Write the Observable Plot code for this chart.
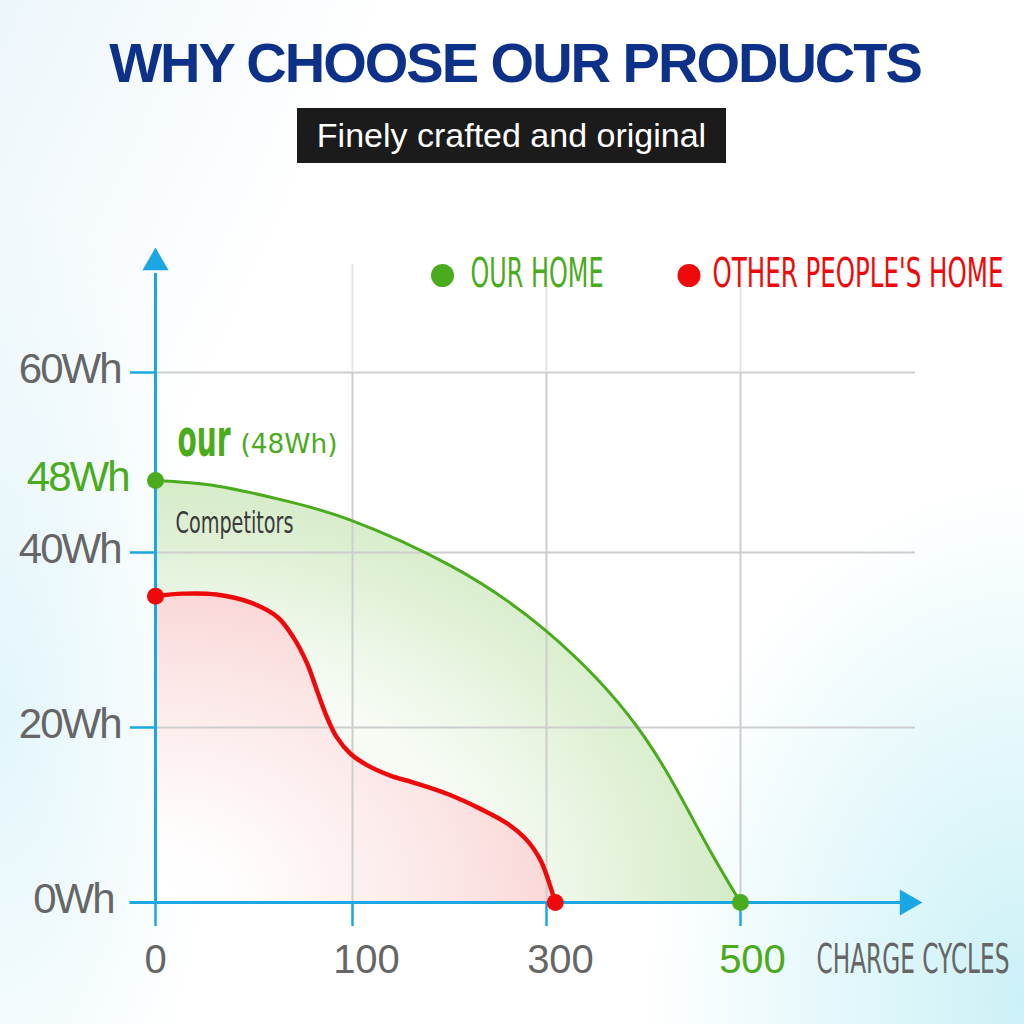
<!DOCTYPE html>
<html><head><meta charset="utf-8">
<script src="https://cdn.jsdelivr.net/npm/d3@7"></script>
<script src="https://cdn.jsdelivr.net/npm/@observablehq/plot@0.6"></script>
<style>
html,body{margin:0;padding:0;width:1024px;height:1024px;overflow:hidden;}
body{position:relative;background:
 radial-gradient(ellipse 380px 520px at 1024px 1000px, rgba(200,240,246,0.95), rgba(255,255,255,0) 100%),
 radial-gradient(ellipse 220px 520px at 0px 720px, rgba(222,244,250,0.85), rgba(255,255,255,0) 100%),
 linear-gradient(115deg, rgba(232,244,250,0.8) 0%, rgba(255,255,255,0) 26%),
 #fff;}
#title{position:absolute;left:3px;width:1024px;top:35px;text-align:center;font:bold 56px/56px "Liberation Sans",Arial,sans-serif;color:#0d3189;letter-spacing:-2px;}
#sub{position:absolute;left:297px;top:108px;width:429px;height:55px;background:#1b1b1b;color:#fff;display:flex;align-items:center;justify-content:center;font:34px "Liberation Sans",Arial,sans-serif;}
#chart{position:absolute;left:0;top:0;}
.ylab text{letter-spacing:-2px}
</style></head>
<body>
<div id="chart"></div>
<div id="title">WHY CHOOSE OUR PRODUCTS</div>
<div id="sub">Finely crafted and original</div>
<script>
// ---- data ----
const cycleTicks = [0, 100, 300, 500];
const whTicks = [0, 20, 40, 60];
const ourCapacity = 48;
const ourCycles = [0, 31, 65, 99, 201, 299, 394, 459, 500];
const ourWh     = [48, 47.4, 45.8, 43.6, 38.5, 31.1, 20, 7.85, 0];
const otherCycles = [0, 14, 31, 48, 62, 70, 77, 82, 87, 92, 99, 115, 139, 163, 198, 232, 260, 280, 294, 302, 309];
const otherWh     = [35, 35.3, 35.2, 34.3, 32.6, 30.3, 27.3, 24.2, 21.2, 18.9, 17, 15.7, 14.5, 13.7, 12.4, 10.7, 9, 7.1, 4.8, 2.5, 0];
const legendLabels = ["OUR HOME", "OTHER PEOPLE'S HOME"];
const xAxisTitle = "CHARGE CYCLES";

const ourData = ourCycles.map((c, i) => ({c, wh: ourWh[i]}));
const otherData = otherCycles.map((c, i) => ({c, wh: otherWh[i]}));

const GREEN = "#4aab1c", RED = "#ee0a0a", BLUE = "#1aa7e4", GRAY = "#666666", GRID = "#cdcdcd";
const SANS = "'Liberation Sans', Arial, sans-serif";
const COND = "'Liberation Sans Narrow', 'DejaVu Sans Condensed', sans-serif";

// annotation anchored at data point (0, 60) with pixel offsets
const squeeze = {};
function note(text, dx, dy, len, cls, opts) {
  squeeze[cls] = len;
  return Plot.text([text], {x: () => 0, y: () => 60, text: d => d, dx, dy,
    textAnchor: "start", lineAnchor: "middle", fontFamily: COND, className: cls, ...opts});
}

const plot = Plot.plot({
  width: 1024, height: 1024,
  marginLeft: 155, marginRight: 109, marginTop: 300, marginBottom: 122,
  style: {background: "transparent", overflow: "visible"},
  x: {type: "linear", domain: cycleTicks, range: [155, 352, 546, 740]},
  y: {type: "linear", domain: whTicks, range: [902, 727, 552, 372]},
  marks: [
    Plot.areaY(ourData, {x: "c", y: "wh", curve: "natural", fill: "url(#gGreen)"}),
    Plot.areaY(otherData, {x: "c", y: "wh", curve: "catmull-rom", fill: "white"}),
    Plot.areaY(otherData, {x: "c", y: "wh", curve: "catmull-rom", fill: "url(#gRed)"}),
    Plot.gridY(whTicks.filter(d => d > 0), {stroke: GRID, strokeOpacity: 1, strokeWidth: 2}),
    Plot.ruleX(cycleTicks.filter(d => d > 0), {y1: 0, y2: 60, stroke: GRID, strokeWidth: 2}),
    Plot.ruleX(cycleTicks.filter(d => d > 0), {y1: 60, y2: 72, stroke: "#e4e4e4", strokeWidth: 2}),
    Plot.line(ourData, {x: "c", y: "wh", curve: "natural", stroke: GREEN, strokeWidth: 3}),
    Plot.line(otherData, {x: "c", y: "wh", curve: "catmull-rom", stroke: RED, strokeWidth: 4.5}),
    // axes
    Plot.axisY(whTicks, {tickSize: 25, tickFormat: () => "", stroke: BLUE, strokeWidth: 2.5, label: null}),
    Plot.axisX(cycleTicks, {tickSize: 24, tickFormat: () => "", stroke: BLUE, strokeWidth: 2.5, label: null}),
    Plot.ruleX([0], {y1: 0, y2: 71, stroke: BLUE, strokeWidth: 3}),
    Plot.ruleY([0], {x1: -13, x2: 665, stroke: BLUE, strokeWidth: 3}),
    Plot.dot([0], {x: 0, y: 72.2, symbol: "triangle", r: 9.7, fill: BLUE, stroke: "none"}),
    Plot.dot([0], {x: 672, y: 0, symbol: "triangle", r: 9.7, rotate: 90, fill: BLUE, stroke: "none"}),
    // tick labels
    Plot.text(whTicks.filter(d => d > 0), {x: 0, y: d => d, text: d => `${d}Wh`, textAnchor: "end", dx: -35, dy: -3,
      fontSize: 42, fill: GRAY, fontFamily: SANS, className: "ylab"}),
    Plot.text(whTicks.filter(d => d === 0), {x: 0, y: d => d, text: d => `${d}Wh`, textAnchor: "end", dx: -42, dy: -3,
      fontSize: 42, fill: GRAY, fontFamily: SANS, className: "ylab"}),
    Plot.text([ourCapacity], {x: 0, y: d => d, text: d => `${d}Wh`, textAnchor: "end", dx: -27, dy: -3,
      fontSize: 42, fill: GREEN, fontFamily: SANS, className: "ylab"}),
    Plot.text(cycleTicks.filter(d => d === 0), {x: d => d, y: 0, text: d => String(d), dy: 58,
      fontSize: 40, fill: GRAY, fontFamily: SANS}),
    Plot.text(cycleTicks.filter(d => d > 0 && d < 500), {x: d => d, y: 0, text: d => String(d), dx: 14, dy: 58,
      fontSize: 40, fill: GRAY, fontFamily: SANS}),
    Plot.text(cycleTicks.filter(d => d === 500), {x: d => d, y: 0, text: d => String(d), dx: 12, dy: 58,
      fontSize: 40, fill: GREEN, fontFamily: SANS}),
    // points
    Plot.dot([ourData[0], ourData[ourData.length - 1]], {x: "c", y: "wh", r: 8.5, fill: GREEN, stroke: "none"}),
    Plot.dot([otherData[0], otherData[otherData.length - 1]], {x: "c", y: "wh", r: 8.5, fill: RED, stroke: "none"}),
    // legend
    Plot.dot([0], {x: () => 0, y: () => 60, dx: 287, dy: -97, r: 11.5, fill: GREEN, stroke: "none"}),
    Plot.dot([0], {x: () => 0, y: () => 60, dx: 533.5, dy: -97, r: 11.5, fill: RED, stroke: "none"}),
    note(legendLabels[0], 315, -99, 133, "sq-leg1", {fontSize: 41, fill: GREEN}),
    note(legendLabels[1], 848, -99, 291, "sq-leg2", {fontSize: 41, fill: RED, textAnchor: "end"}),
    // annotations
    note("our", 22, 67, 53, "sq-our", {fontSize: 52, fontWeight: "bold", fill: GREEN}),
    note(`(${ourCapacity}Wh)`, 85, 72, 97, "sq-cap", {fontSize: 27, fill: GREEN}),
    note("Competitors", 20, 151, 118, "sq-comp", {fontSize: 31, fill: "#3a3a3a"}),
    note(xAxisTitle, 854, 588, 193, "sq-cc", {fontSize: 40, fill: GRAY, textAnchor: "end"})
  ]
});

// gradients
const svg = d3.select(plot);
const defs = svg.insert("defs", ":first-child");
const gg = defs.append("radialGradient").attr("id", "gGreen").attr("cx", 0).attr("cy", 1).attr("r", 1).attr("fx", 0).attr("fy", 1);
[[0, "rgb(225,242,220)", 0.6], [0.55, "rgb(238,248,235)", 0.5], [0.85, "rgb(214,236,200)", 0.75], [1, "rgb(206,232,190)", 0.85]]
  .forEach(([o, c, a]) => gg.append("stop").attr("offset", o).attr("stop-color", c).attr("stop-opacity", a));
const gr = defs.append("radialGradient").attr("id", "gRed").attr("cx", 0).attr("cy", 1).attr("r", 1).attr("fx", 0).attr("fy", 1);
[[0, "rgb(255,255,255)", 0], [0.45, "rgb(252,230,230)", 0.5], [1, "rgb(249,208,208)", 0.85]]
  .forEach(([o, c, a]) => gr.append("stop").attr("offset", o).attr("stop-color", c).attr("stop-opacity", a));

// condensed text widths
Object.entries(squeeze).forEach(([cls, len]) => {
  svg.selectAll(`g.${cls} text`).attr("textLength", len).attr("lengthAdjust", "spacingAndGlyphs");
});

document.getElementById("chart").appendChild(plot);
</script>
</body></html>
